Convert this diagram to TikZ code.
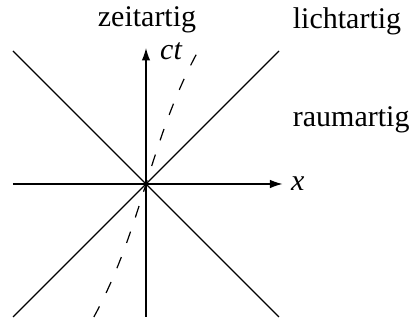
\documentclass[tikz,border=0pt]{standalone}
\usepackage{fontspec}
\setmainfont{Liberation Serif}
\usetikzlibrary{arrows.meta}

\begin{document}
\begin{tikzpicture}[
			x=1pt, y=1pt,
			every node/.style={font=\fontsize{30}{36}\selectfont, inner sep=0pt},
			axis/.style={-{Latex[length=12.5pt, width=8.5pt]}, line width=1.2pt},
			cone/.style={line width=1.2pt},
			worldline/.style={line width=1.2pt, dash pattern=on 12pt off 15pt}
			]
			\useasboundingbox (-146,-139) rectangle (270,184);
			
			% Ends of the axes and of the light cone
			\coordinate (xmin) at (-133,0);
			\coordinate (xmax) at (136.5,0);
			\coordinate (tmin) at (0,-133);
			\coordinate (tmax) at (0,136);
			\coordinate (nw) at (-133,133);
			\coordinate (ne) at (133,133);
			\coordinate (sw) at (-133,-133);
			\coordinate (se) at (133,-133);
			
			% Light cone
			\draw[cone] (nw) -- (se);
			\draw[cone] (sw) -- (ne);
			
			% Axes
			\draw[axis] (xmin) -- (xmax);
			\draw[axis] (tmin) -- (tmax);
			
			% World line
			\draw[worldline] plot[domain=-1:1, samples=50, smooth] ({41.8*\x+10.35*\x*\x*\x}, {133*\x});
			
			% Labels
			\node[anchor=base west] (xlabel) at (145,-7) {\textit{x}};
			\node[anchor=base west] (tlabel) at (14,124) {\textit{ct}};
			\node[anchor=base] (zeit) at (1,157) {zeitartig};
			\node[anchor=base west] (licht) at (146.7,155.7) {lichtartig};
			\node[anchor=base west] (raum) at (146.7,57) {raumartig};
		\end{tikzpicture}
\end{document}
